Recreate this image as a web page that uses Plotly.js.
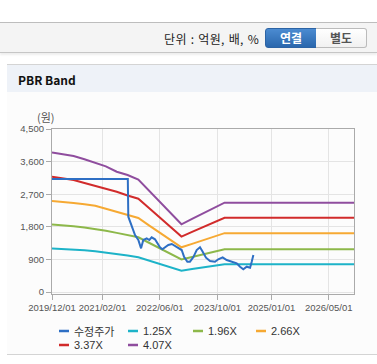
<!DOCTYPE html>
<html><head><meta charset="utf-8">
<script src="https://cdn.plot.ly/plotly-3.0.1.min.js"></script>
<style>
html,body{margin:0;padding:0;width:377px;height:364px;overflow:hidden;background:#fff;font-family:"Noto Sans CJK KR","Noto Sans",sans-serif;}
.bar{position:absolute;left:0;top:22px;width:377px;height:29px;background:#f4f4f4;border-top:1px solid #bdbdbd;border-bottom:1px solid #c6c6c6;box-shadow:0 2px 2px rgba(0,0,0,0.07);}
.unit{position:absolute;right:118px;top:29px;font-size:12px;color:#222;line-height:20px;white-space:nowrap;letter-spacing:0.3px;word-spacing:1px;}
.b1{position:absolute;left:265px;top:28px;width:50px;height:18px;background:linear-gradient(#4b8bd1,#2a67ad);border:1px solid #2c63a4;border-radius:3px 0 0 3px;color:#fff;font-weight:bold;font-size:12px;text-align:center;line-height:18px;}
.b2{position:absolute;left:316px;top:28px;width:50px;height:18px;background:linear-gradient(#fff,#f1f1f1);border:1px solid #bbb;border-left:none;border-radius:0 3px 3px 0;color:#555;font-weight:bold;font-size:12px;text-align:center;line-height:18px;}
.panel{position:absolute;left:7px;top:64px;width:372px;height:289px;background:#fcfcfc;border-top:1px solid #d4d4d4;border-bottom:1px solid #d4d4d4;}
.ph{height:27px;background:#eef2f8;font-weight:bold;font-size:12px;line-height:29px;padding-left:11px;color:#111;}
#chart{position:absolute;left:0;top:0;width:377px;height:364px;}
</style></head>
<body>
<div class="bar"></div>
<div class="unit">단위 : 억원, 배, %</div>
<div class="b1">연결</div>
<div class="b2">별도</div>
<div class="panel"><div class="ph">PBR Band</div></div>
<div id="chart"></div>
<script>
// ---- data ----
const priceDates = ["2019-12-01","2020-06-01","2021-01-01","2021-06-01","2021-09-03","2021-09-07","2021-10-06","2021-11-03","2021-12-01","2021-12-24","2022-01-12","2022-02-10","2022-03-04","2022-03-24","2022-04-21","2022-05-11","2022-06-02","2022-06-22","2022-07-15","2022-08-12","2022-09-10","2022-10-07","2022-11-04","2022-12-03","2022-12-23","2023-01-20","2023-02-11","2023-03-11","2023-04-09","2023-05-07","2023-05-30","2023-06-27","2023-07-31","2023-09-11","2023-10-09","2023-11-15","2023-12-19","2024-01-31","2024-03-13","2024-04-10","2024-05-08","2024-06-06","2024-07-04","2024-07-18","2024-08-01"];
const priceValues = [3119,3119,3119,3119,3119,2079,1803,1574,1436,1206,1436,1482,1436,1510,1455,1344,1234,1179,1234,1298,1325,1270,1223,1159,975,836,836,958,1159,1234,1113,947,856,836,903,958,883,836,792,698,627,698,671,836,1021];

const bandDates = ["2019-12-01","2020-03-01","2020-06-01","2020-09-01","2020-12-01","2021-03-01","2021-06-01","2021-09-01","2021-12-01","2022-03-01","2022-06-01","2022-09-01","2022-12-01","2023-03-01","2023-06-01","2023-09-01","2023-12-01","2024-12-01","2025-12-01","2026-12-01"];
const band125 = [1200,1188,1170,1150,1122,1092,1052,1010,960,870,780,690,590,635,680,722,765,765,765,765];
const band196 = [1865,1845,1815,1782,1745,1692,1632,1572,1510,1360,1205,1050,897,965,1040,1110,1180,1180,1180,1180];
const band266 = [2512,2490,2455,2420,2380,2300,2210,2120,2045,1840,1640,1440,1234,1330,1430,1530,1625,1625,1625,1625];
const band337 = [3182,3140,3091,3010,2935,2860,2768,2665,2575,2320,2060,1800,1530,1660,1790,1920,2048,2048,2048,2048];
const band407 = [3850,3805,3754,3665,3575,3470,3321,3230,3106,2800,2487,2178,1869,2020,2170,2320,2465,2465,2465,2465];

const seriesNames = ["수정주가","1.25X","1.96X","2.66X","3.37X","4.07X"];
const xTickVals = ["2019-12-01","2021-02-01","2022-06-01","2023-10-01","2025-01-01","2026-05-01"];
const xTickText = ["2019/12/01","2021/02/01","2022/06/01","2023/10/01","2025/01/01","2026/05/01"];
const yTickVals = [0,900,1800,2700,3600,4500];

// ---- styles ----
const colors = ["#2e6fc4","#1db3c8","#8db84a","#f6a933","#d12b2b","#8f4d9e"];
const L=52, R=354, T=129, B=294;
const px = x => (x-L)/(R-L);
const py = y => (B-y)/(B-T);

const bands = [band125, band196, band266, band337, band407];
const traces = [{x: priceDates, y: priceValues, name: seriesNames[0], type:"scatter", mode:"lines", line:{color:colors[0], width:2}}];
bands.forEach((b,i)=>traces.push({x: bandDates, y: b, name: seriesNames[i+1], type:"scatter", mode:"lines", line:{color:colors[i+1], width:2}}));
traces.push(traces.shift());

const legendPos = [[59,331],[128,331],[193,331],[256,331],[59,345],[128,345]];
const shapes = [], annotations = [];
seriesNames.forEach((n,i)=>{
  const [lx,ly] = legendPos[i];
  shapes.push({type:"line", xref:"paper", yref:"paper", x0:px(lx), x1:px(lx+10), y0:py(ly), y1:py(ly), line:{color:colors[i], width:2.5}});
  annotations.push({xref:"paper", yref:"paper", x:px(lx+13), y:py(ly), xanchor:"left", yanchor:"middle", showarrow:false, text:n,
    font:{family: i===0 ? "Noto Sans CJK KR" : "Liberation Sans, Arial", size:11, color:"#333"}});
});
annotations.push({xref:"paper", yref:"paper", x:px(46), y:py(117), xanchor:"center", yanchor:"middle", showarrow:false, text:"(원)",
  font:{family:"Noto Sans CJK KR", size:11, color:"#555"}});

const layout = {
  width:377, height:364, showlegend:false,
  margin:{l:L, r:377-R, t:T, b:364-B, pad:0},
  paper_bgcolor:"rgba(0,0,0,0)", plot_bgcolor:"rgba(0,0,0,0)",
  font:{family:"Liberation Sans, Arial", size:9, color:"#666"},
  xaxis:{type:"date", range:["2019-12-01","2026-12-01"], tickmode:"array", tickvals:xTickVals, ticktext:xTickText,
    showgrid:true, gridcolor:"#e4e4e4", gridwidth:1, showline:true, linecolor:"#aaa", linewidth:1, mirror:true,
    ticks:"outside", ticklen:5, tickcolor:"#aaa", zeroline:false, tickfont:{size:9.5, color:"#555"}},
  yaxis:{range:[-55,4500], tickmode:"array", tickvals:yTickVals, tickformat:",d",
    showgrid:true, gridcolor:"#e4e4e4", gridwidth:1, showline:true, linecolor:"#aaa", linewidth:1, mirror:true,
    ticks:"outside", ticklen:5, tickcolor:"#aaa", zeroline:false, tickfont:{size:9.5, color:"#555"}},
  separators:".,",
  shapes: shapes, annotations: annotations
};
Plotly.newPlot("chart", traces, layout, {displayModeBar:false, staticPlot:true});
</script>
</body></html>
